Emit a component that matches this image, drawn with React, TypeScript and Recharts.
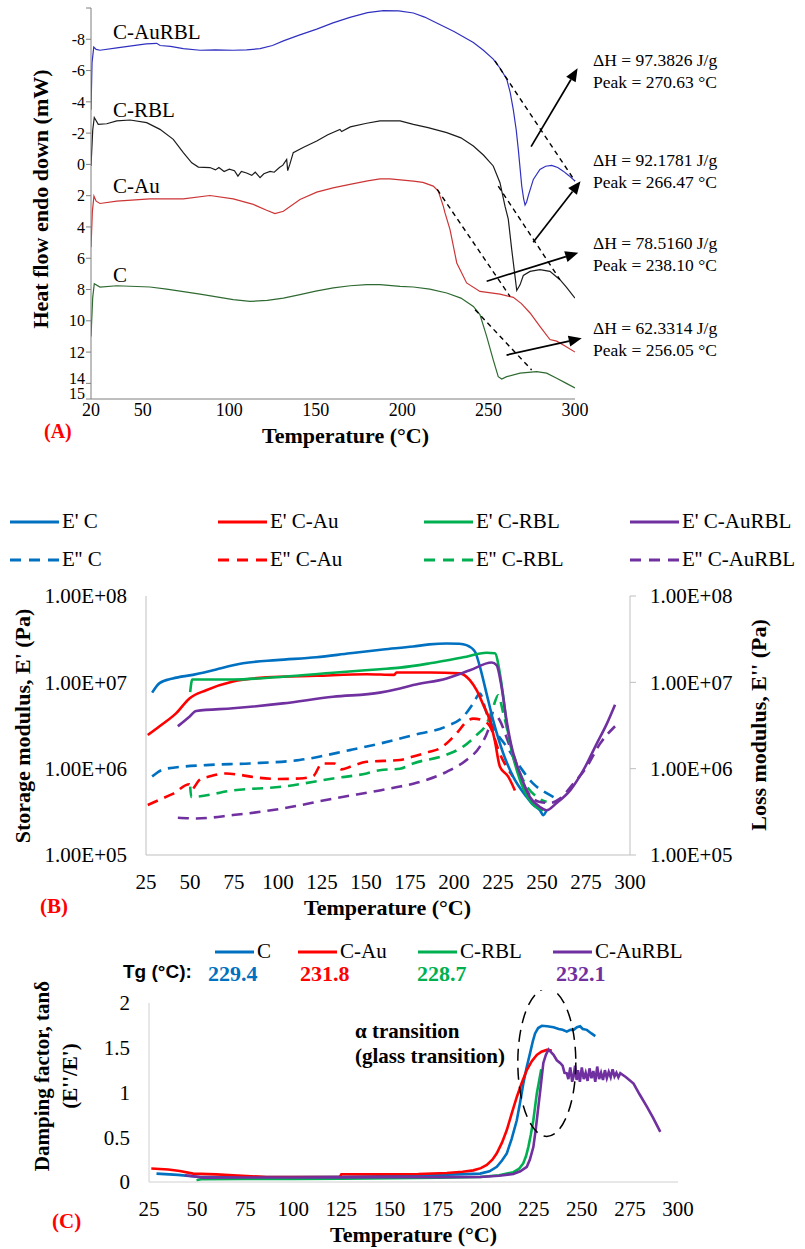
import React from "react";
import {
  LineChart,
  Line,
  XAxis,
  YAxis,
  ReferenceLine,
  ReferenceDot,
} from "recharts";

type Pt = [number, number];

// ---------- (A) DSC curves: temperature (°C), heat flow (mW) ----------
const dscAuRBL: Pt[] = [
  [20, -3.5], [20.6, -6.5], [21.6, -7.5], [23, -7.35], [25.2, -7.3], [35, -7.45],
  [44.5, -7.6], [52, -7.7], [58, -7.74], [60, -7.6], [66, -7.55], [73.4, -7.4],
  [83.1, -7.3], [92, -7.32], [102.3, -7.3], [110, -7.32], [117.8, -7.4], [125, -7.6],
  [131.3, -7.9], [140, -8.25], [150.6, -8.65], [160, -9.05], [169.8, -9.4], [180, -9.7],
  [189.1, -9.83], [198, -9.82], [206.5, -9.68], [213, -9.42], [220, -9.04], [230, -8.5],
  [241.2, -7.8], [247, -7.3], [252.7, -6.73], [257, -6.1], [260.5, -5.45], [262.5, -4.6],
  [264.3, -3.5], [266, -2.2], [267.2, -0.96], [269.2, 1.4], [270.3, 2.2], [271.1, 2.6],
  [272, 2.4], [273, 2.0], [275.9, 0.96], [279.7, 0.32], [283, 0.12], [286.5, 0.06],
  [290, 0.2], [293.2, 0.43], [296.5, 0.72], [300, 1.07],
];
const dscRBL: Pt[] = [
  [20, 0.1], [21, -2.2], [21.9, -3.0], [24.2, -2.56], [29.1, -2.6], [34.9, -2.78],
  [42.6, -2.84], [52.2, -2.67], [59.9, -2.24], [67.6, -1.6], [73.4, -0.75], [78.3, -0.1],
  [82.1, 0.17], [88.8, 0.2], [92, 0.35], [94, 0.2], [97, 0.45], [100, 0.3], [103, 0.4],
  [105, 0.75], [107, 0.45], [110, 0.55], [113, 0.7], [115, 0.5], [117.8, 0.85], [120, 0.6],
  [123.6, 0.45], [126, 0.5], [129, 0.2], [131, 0.05], [133.2, -0.32], [133.8, 0.4],
  [135, 0.0], [137, -0.75], [143, -1.1], [150.6, -1.5], [157, -1.9], [164, -2.24],
  [165, -2.1], [170, -2.4], [179.5, -2.63], [187.2, -2.78], [198.8, -2.78], [206.5, -2.56],
  [215, -2.35], [225.8, -2.03], [234, -1.7], [241.2, -1.17], [247, -0.6], [252.7, 0.1],
  [256.6, 1.17], [259.5, 2.67], [261.4, 3.5], [263.4, 5.45], [265.3, 7.16], [266.3, 8.06],
  [268.2, 7.7], [270.1, 7.1], [274, 6.84], [279.7, 6.73], [285.5, 6.84], [291.3, 7.37],
  [295, 7.85], [300, 8.55],
];
const dscAu: Pt[] = [
  [20, 5.3], [20.8, 3.0], [21.7, 2.03], [23, 2.35], [25.2, 2.5], [34.9, 2.35], [54.1, 2.2],
  [73.4, 2.2], [88.8, 1.99], [102.3, 2.2], [113.9, 2.56], [121.6, 2.93], [126.4, 3.14],
  [131.3, 3.0], [140.9, 2.24], [150.6, 1.77], [160, 1.5], [169.8, 1.28], [180, 1.05],
  [187.2, 0.92], [193, 0.92], [206.5, 1.07], [212, 1.15], [218, 1.39], [220.9, 1.71],
  [223.8, 2.67], [224.8, 3.1], [227.7, 4.17], [231.6, 6.3], [237.3, 7.58], [245, 8.12],
  [256.6, 8.29], [264.3, 8.5], [269, 8.9], [274, 9.5], [279.7, 10.36], [285.5, 11.2],
  [289.4, 11.3], [294, 11.6], [300, 12.0],
];
const dscC: Pt[] = [
  [20, 11.0], [21, 8.5], [21.9, 7.63], [25.2, 7.84], [34.9, 7.76], [54.1, 7.84], [63.8, 7.97],
  [83.1, 8.29], [102.3, 8.65], [112, 8.76], [122, 8.7], [131.3, 8.55], [140.9, 8.33],
  [150, 8.1], [160.2, 7.9], [170, 7.76], [179.5, 7.69], [187.2, 7.69], [198.8, 7.8],
  [206.5, 7.84], [216, 7.98], [225.8, 8.22], [234, 8.55], [241.2, 9.08], [245, 9.6],
  [248.9, 11.0], [252.7, 12.5], [255.6, 13.57], [257.6, 13.72], [260.5, 13.57], [268.2, 13.35],
  [277.8, 13.25], [283.6, 13.35], [289.4, 13.67], [295, 14.0], [300, 14.3],
];
const dscNames = ["C-AuRBL", "C-RBL", "C-Au", "C"];
const dscColors = ["#3030c0", "#1c1c1c", "#cc3535", "#2f6a32"];
const dscCurves = [dscAuRBL, dscRBL, dscAu, dscC];
const dscYTicks = [-10, -8, -6, -4, -2, 0, 2, 4, 6, 8, 10, 12, 14, 15];
const dscXTicks = [20, 50, 100, 150, 200, 250, 300];
// baselines drawn for the peak integration
const dscTangents: [Pt, Pt][] = [
  [[253.7, -6.62], [300, 1.07]],
  [[255.6, 1.39], [291.3, 7.37]],
  [[220.3, 1.6], [262.4, 8.44]],
  [[242.2, 9.29], [274.9, 13.14]],
];
// arrows from the peaks to the notes
const dscArrows: [Pt, Pt][] = [
  [[274.6, -1.14], [301.5, -6.14]],
  [[275.8, 4.98], [303.2, 1.07]],
  [[248.9, 7.47], [301.9, 5.65]],
  [[260.4, 12.19], [303.9, 11.12]],
];
const dscEnthalpy = ["97.3826", "92.1781", "78.5160", "62.3314"];
const dscPeaks = ["270.63", "266.47", "238.10", "256.05"];

// ---------- (B) DMA moduli (Pa) ----------
const eC: Pt[] = [
  [28.5, 7.6e6], [32.7, 9.8e6], [40.2, 1.11e7], [51.6, 1.22e7], [58, 1.3e7], [64.9, 1.41e7],
  [80.1, 1.66e7], [99.1, 1.81e7], [121.8, 1.95e7], [140.8, 2.17e7], [159.7, 2.4e7],
  [176.8, 2.6e7], [186, 2.75e7], [195.8, 2.82e7], [203, 2.8e7], [207.1, 2.7e7],
  [211.9, 2.27e7], [214.7, 1.52e7], [218.5, 7.4e6], [222.3, 3.6e6], [228, 1.5e6],
  [233.6, 8.1e5], [241.3, 4.7e5], [245, 3.8e5], [248.8, 3.3e5], [250.7, 2.9e5], [252.6, 3.3e5],
];
const eAu: Pt[] = [
  [26, 2.45e6], [32.7, 3.1e6], [42.2, 4.4e6], [49.7, 6.5e6], [59.2, 8.1e6], [74.4, 1.02e7],
  [93.4, 1.14e7], [121.8, 1.19e7], [150.3, 1.24e7], [166, 1.22e7], [167.3, 1.3e7],
  [186.3, 1.3e7], [203.3, 1.27e7], [209, 1.06e7], [213, 8e6], [216.6, 5.5e6], [220.4, 3.6e6],
  [223.2, 2.1e6], [226.1, 1.05e6], [230.8, 8.1e5], [234.6, 5.6e5],
];
const eRBL: Pt[] = [
  [50.1, 7.7e6], [51.3, 1.08e7], [74.4, 1.08e7], [102.8, 1.16e7], [131.3, 1.29e7],
  [157.8, 1.42e7], [169.3, 1.48e7], [186.3, 1.66e7], [205.2, 1.95e7], [218.5, 2.2e7],
  [223.2, 2.17e7], [226.1, 1.26e7], [228, 6.8e6], [229.9, 3.3e6], [232.7, 1.64e6],
  [237.5, 7.4e5], [243.1, 4.3e5], [250.7, 3.3e5],
];
const eAuRBL: Pt[] = [
  [43.1, 3.1e6], [49.7, 4.0e6], [53.5, 4.65e6], [74.4, 5.0e6], [102.8, 5.7e6], [131.3, 6.8e6],
  [157.8, 7.6e6], [169.3, 8.5e6], [176.8, 9.3e6], [195.8, 1.11e7], [209, 1.38e7],
  [221.4, 1.7e7], [224.2, 1.58e7], [227, 8.9e6], [229.9, 3.6e6], [232.7, 1.8e6],
  [237.5, 8.8e5], [243.1, 4.7e5], [248.8, 3.6e5], [252.6, 3.3e5], [258.3, 4.0e5],
  [266, 5.6e5], [273.5, 9.6e5], [281.1, 1.95e6], [286.8, 3.3e6], [291.5, 5.5e6],
];
const elC: Pt[] = [
  [28.5, 8.1e5], [32, 9.2e5], [36.5, 1.0e6], [59.2, 1.1e6], [83.9, 1.15e6], [112.3, 1.26e6],
  [140.8, 1.64e6], [157.8, 1.95e6], [176.8, 2.45e6], [195.8, 3.1e6], [205.2, 4.0e6],
  [210.9, 5.7e6], [214.7, 7.4e6], [218.5, 4.4e6], [223.2, 2.8e6], [229.9, 1.8e6],
  [237.5, 1.05e6], [245, 6.7e5], [252.6, 5.2e5], [258.3, 4.5e5],
];
const elAu: Pt[] = [
  [26, 3.8e5], [33, 4.4e5], [40.2, 5.1e5], [49.7, 6.6e5], [51, 5.8e5], [55.4, 7.4e5],
  [62, 8.2e5], [70.6, 8.8e5], [78, 8.5e5], [87.7, 7.9e5], [100, 7.6e5], [112.3, 7.7e5],
  [120, 8.2e5], [125, 1.15e6], [132, 1.15e6], [136, 9.8e5], [141, 1.05e6], [150.3, 1.2e6],
  [169.3, 1.26e6], [176.8, 1.38e6], [185, 1.55e6], [192, 1.72e6], [201.5, 2.57e6],
  [207.1, 3.5e6], [210.9, 3.8e6], [216.6, 3.6e6], [220.4, 3.1e6], [226, 1.5e6], [233.5, 8.1e5],
];
const elRBL: Pt[] = [
  [50.1, 6.2e5], [50.7, 4.7e5], [74.4, 5.6e5], [102.8, 6.2e5], [131.3, 7.7e5], [150.3, 8.8e5],
  [157.8, 9.6e5], [169.3, 1.0e6], [176.8, 1.15e6], [195.8, 1.45e6], [205.2, 1.8e6],
  [212.8, 2.45e6], [218.5, 3.3e6], [222.3, 5.2e6], [225.1, 7.1e6], [228, 4.4e6],
  [233.6, 1.5e6], [239.3, 7.4e5], [247, 4.7e5], [252.6, 4.1e5],
];
const elAuRBL: Pt[] = [
  [43.1, 2.7e5], [53.5, 2.65e5], [74.4, 2.9e5], [102.8, 3.46e5], [131.3, 4.5e5],
  [157.8, 5.6e5], [169.3, 6.2e5], [176.8, 6.7e5], [195.8, 9.2e5], [207.1, 1.26e6],
  [214.7, 1.8e6], [219.4, 2.8e6], [222.3, 4.4e6], [226.1, 3.6e6], [229.9, 2.3e6],
  [235.6, 1.05e6], [241.3, 5.6e5], [248.8, 4.1e5], [254.5, 4.0e5], [260.2, 4.5e5],
  [267.8, 6.7e5], [275.4, 1.05e6], [283, 1.95e6], [291.5, 3.1e6],
];
const sampleNames = ["C", "C-Au", "C-RBL", "C-AuRBL"];
const sampleColors = ["#0070c0", "#ff0000", "#00b050", "#7030a0"];
const storageCurves = [eC, eAu, eRBL, eAuRBL];
const lossCurves = [elC, elAu, elRBL, elAuRBL];
const tempTicks = [25, 50, 75, 100, 125, 150, 175, 200, 225, 250, 275, 300];
const modulusTicks = [1e5, 1e6, 1e7, 1e8];

// ---------- (C) tan delta ----------
const tanC: Pt[] = [
  [28.9, 0.094], [40, 0.08], [51.4, 0.056], [75, 0.055], [100, 0.055], [125, 0.058],
  [145, 0.064], [170, 0.075], [185, 0.085], [197.1, 0.094], [202, 0.12], [205.8, 0.17],
  [208.5, 0.24], [211, 0.32], [213.5, 0.48], [216.2, 0.69], [218, 0.9], [219.6, 1.1],
  [221.3, 1.28], [223.1, 1.44], [224.5, 1.57], [225.7, 1.66], [227.3, 1.72], [229.2, 1.745],
  [232, 1.74], [235.3, 1.73], [238, 1.71], [240, 1.7], [242.2, 1.68], [244, 1.7],
  [245.7, 1.7], [247.5, 1.73], [249.1, 1.74], [250.5, 1.71], [252.6, 1.7], [255, 1.66],
  [257, 1.63],
];
const tanAu: Pt[] = [
  [26.2, 0.15], [35, 0.14], [41, 0.123], [47.9, 0.094], [60, 0.085], [68.7, 0.075],
  [86.1, 0.056], [100, 0.056], [124.2, 0.056], [125, 0.086], [145, 0.086], [165, 0.09],
  [179.8, 0.1], [188, 0.115], [193.6, 0.13], [197.5, 0.155], [200.6, 0.19], [203.5, 0.25],
  [205.8, 0.32], [208.5, 0.44], [211, 0.58], [213.5, 0.76], [216.2, 0.95], [218.8, 1.11],
  [221.4, 1.25], [224, 1.35], [226.6, 1.42], [229, 1.455], [231.8, 1.476], [234.4, 1.47],
];
const tanRBL: Pt[] = [
  [49.7, 0.02], [52, 0.03], [75, 0.033], [100, 0.035], [125, 0.038], [150, 0.042],
  [175, 0.048], [197.1, 0.056], [207, 0.075], [214.4, 0.11], [217.5, 0.15], [219.6, 0.21],
  [221, 0.29], [222.2, 0.39], [223.5, 0.53], [224.8, 0.69], [225.7, 0.84], [226.6, 0.99],
  [227.8, 1.13], [228.9, 1.26],
];
const tanAuRBL: Pt[] = [
  [43.6, 0.075], [48, 0.065], [53.1, 0.049], [75, 0.05], [100, 0.05], [125, 0.052],
  [150, 0.054], [175, 0.055], [197.1, 0.056], [207, 0.07], [214.4, 0.09], [218, 0.12],
  [221.4, 0.17], [223, 0.25], [224.8, 0.39], [226, 0.58], [227.4, 0.84], [228.7, 1.08],
  [230, 1.33], [231.3, 1.42], [232.7, 1.48], [234, 1.45], [235.3, 1.42], [237, 1.36],
  [238.7, 1.33], [240, 1.3], [241, 1.22], [242.2, 1.215], [243, 1.15], [244, 1.28],
  [245, 1.12], [245.7, 1.18], [246.5, 1.3], [247.3, 1.14], [248, 1.25], [249, 1.12],
  [250, 1.28], [251, 1.15], [252, 1.22], [253, 1.13], [254, 1.27], [255, 1.16], [256, 1.24],
  [257, 1.12], [258, 1.29], [259, 1.15], [260, 1.22], [261, 1.14], [262, 1.25], [263, 1.16],
  [264, 1.23], [265, 1.17], [266, 1.26], [267, 1.18], [268, 1.22], [269, 1.17], [270, 1.215],
  [273, 1.17], [276.9, 1.1], [280, 0.98], [283.9, 0.84], [287, 0.72], [290.8, 0.56],
];
const tanCurves = [tanC, tanAu, tanRBL, tanAuRBL];
const tgValues = ["229.4", "231.8", "228.7", "232.1"];
const tanTicks = [0, 0.5, 1, 1.5, 2];
const transitionCenter: Pt = [231.8, 1.336];

const SERIF = '"Liberation Serif", "Times New Roman", serif';
const toXY = (pts: Pt[]) => pts.map(([x, y]) => ({ x, y }));

const Txt = ({ x, y, size, bold, color, children, family }: any) => (
  <div
    style={{
      position: "absolute",
      left: x,
      top: y - size * 0.6,
      fontSize: size,
      lineHeight: `${size * 1.2}px`,
      fontWeight: bold ? "bold" : "normal",
      color: color || "#000",
      fontFamily: family || SERIF,
      whiteSpace: "nowrap",
    }}
  >
    {children}
  </div>
);

const VTxt = ({ x, y, size, children }: any) => (
  <div
    style={{
      position: "absolute",
      left: x,
      top: y,
      transform: "translate(-50%, -50%) rotate(-90deg)",
      fontSize: size,
      fontWeight: "bold",
      fontFamily: SERIF,
      whiteSpace: "nowrap",
      lineHeight: 1,
    }}
  >
    {children}
  </div>
);

// the last two ticks (14, 15) are crowded: lift both labels like the source
const DscYTick = (p: any) => {
  const { x, y, payload } = p;
  if (payload.value === -10) return null;
  const dy = payload.value === 15 ? -6 : payload.value === 14 ? -5 : 0;
  return (
    <text
      x={x}
      y={y + dy}
      dy="0.355em"
      textAnchor="end"
      fontSize={16}
      fontFamily={SERIF}
      fill="#000"
    >
      {payload.value}
    </text>
  );
};

const ArrowShape = (p: any) => {
  const { x1, y1, x2, y2 } = p;
  const a = Math.atan2(y2 - y1, x2 - x1);
  const len = 13;
  const half = 5.5;
  const bx = x2 - len * Math.cos(a);
  const by = y2 - len * Math.sin(a);
  const nx = -Math.sin(a) * half;
  const ny = Math.cos(a) * half;
  return (
    <g>
      <line x1={x1} y1={y1} x2={bx} y2={by} stroke="#000" strokeWidth={1.7} />
      <polygon
        points={`${x2},${y2} ${bx + nx},${by + ny} ${bx - nx},${by - ny}`}
        fill="#000"
      />
    </g>
  );
};

const EllipseShape = (p: any) => (
  <ellipse
    cx={p.cx}
    cy={p.cy}
    rx={29}
    ry={74}
    fill="none"
    stroke="#000"
    strokeWidth={1.5}
    strokeDasharray="12 7"
  />
);

const DscPanel = () => {
  const labelY = [33, 111, 187, 276];
  const noteY = [60, 160, 243, 328];
  return (
    <>
      <div style={{ position: "absolute", left: 0, top: 0 }}>
        <LineChart width={805} height={430} margin={{ top: 8, right: 230, bottom: 0, left: 0 }}>
          <XAxis
            type="number"
            dataKey="x"
            domain={[20, 300]}
            ticks={dscXTicks}
            interval={0}
            allowDataOverflow
            height={31}
            stroke="#7f7f7f"
            tickLine={false}
            tickSize={0}
            tickMargin={4}
            tick={{ fontSize: 18, fill: "#000", fontFamily: SERIF }}
          />
          <YAxis
            type="number"
            dataKey="y"
            reversed
            domain={[-10, 15]}
            ticks={dscYTicks}
            interval={0}
            allowDataOverflow
            width={91}
            stroke="#7f7f7f"
            tickSize={5}
            tickMargin={1}
            tick={DscYTick}
          />
          {dscCurves.map((c, i) => (
            <Line
              key={dscNames[i]}
              data={toXY(c)}
              dataKey="y"
              type="linear"
              stroke={dscColors[i]}
              strokeWidth={1.2}
              dot={false}
              activeDot={false}
              isAnimationActive={false}
            />
          ))}
          {dscTangents.map((s, i) => (
            <ReferenceLine
              key={`t${i}`}
              segment={[{ x: s[0][0], y: s[0][1] }, { x: s[1][0], y: s[1][1] }]}
              stroke="#000"
              strokeWidth={1.4}
              strokeDasharray="5 4"
              ifOverflow="visible"
            />
          ))}
          {dscArrows.map((s, i) => (
            <ReferenceLine
              key={`a${i}`}
              segment={[{ x: s[0][0], y: s[0][1] }, { x: s[1][0], y: s[1][1] }]}
              ifOverflow="visible"
              shape={ArrowShape}
            />
          ))}
        </LineChart>
      </div>
      {dscNames.map((n, i) => (
        <Txt key={n} x={113} y={labelY[i]} size={21}>
          {n}
        </Txt>
      ))}
      {dscEnthalpy.map((h, i) => (
        <React.Fragment key={h}>
          <Txt x={593} y={noteY[i]} size={17.5}>
            ΔH = {h} J/g
          </Txt>
          <Txt x={593} y={noteY[i] + 22} size={17.5}>
            Peak = {dscPeaks[i]} °C
          </Txt>
        </React.Fragment>
      ))}
      <VTxt x={41} y={199} size={22}>
        Heat flow endo down (mW)
      </VTxt>
      <Txt x={262} y={436} size={22} bold>
        Temperature (°C)
      </Txt>
      <Txt x={44} y={431} size={20} bold color="#ff0000">
        (A)
      </Txt>
    </>
  );
};

const LegendLine = ({ x, y, w, color, dashed, label, size }: any) => (
  <>
    <svg
      style={{ position: "absolute", left: x, top: y - 3 }}
      width={w}
      height={6}
    >
      <line
        x1={0}
        y1={3}
        x2={w}
        y2={3}
        stroke={color}
        strokeWidth={3}
        strokeDasharray={dashed ? "11 8" : undefined}
      />
    </svg>
    <Txt x={x + w + 3} y={y} size={size}>
      {label}
    </Txt>
  </>
);

const DmaPanel = () => {
  const legendX = [10, 218, 424, 630];
  const fmt = (v: number) => `1.00E+${String(Math.round(Math.log10(v))).padStart(2, "0")}`;
  const tickStyle = { fontSize: 21, fill: "#000", fontFamily: SERIF };
  return (
    <>
      {sampleNames.map((n, i) => (
        <React.Fragment key={n}>
          <LegendLine x={legendX[i]} y={522} w={49} color={sampleColors[i]} label={`E' ${n}`} size={21} />
          <LegendLine x={legendX[i]} y={560} w={49} color={sampleColors[i]} dashed label={`E'' ${n}`} size={21} />
        </React.Fragment>
      ))}
      <div style={{ position: "absolute", left: 0, top: 580 }}>
        <LineChart width={805} height={320} margin={{ top: 16, right: 0, bottom: 0, left: 0 }}>
          <XAxis
            type="number"
            dataKey="x"
            domain={[25, 300]}
            ticks={tempTicks}
            interval={0}
            allowDataOverflow
            height={45}
            stroke="#bfbfbf"
            tickLine={false}
            tickSize={0}
            tickMargin={19}
            tick={tickStyle}
          />
          <YAxis
            yAxisId="left"
            scale="log"
            domain={[1e5, 1e8]}
            ticks={modulusTicks}
            interval={0}
            allowDataOverflow
            width={146}
            stroke="#bfbfbf"
            tickLine={false}
            tickSize={0}
            tickMargin={19}
            tickFormatter={fmt}
            tick={tickStyle}
          />
          <YAxis
            yAxisId="right"
            orientation="right"
            scale="log"
            domain={[1e5, 1e8]}
            ticks={modulusTicks}
            interval={0}
            allowDataOverflow
            width={175}
            stroke="#bfbfbf"
            tickSize={6}
            tickMargin={14}
            tickFormatter={fmt}
            tick={tickStyle}
          />
          {lossCurves.map((c, i) => (
            <Line
              key={`l${i}`}
              yAxisId="right"
              data={toXY(c)}
              dataKey="y"
              type="monotone"
              stroke={sampleColors[i]}
              strokeWidth={2.6}
              strokeDasharray="11 7"
              dot={false}
              activeDot={false}
              isAnimationActive={false}
            />
          ))}
          {storageCurves.map((c, i) => (
            <Line
              key={`s${i}`}
              yAxisId="left"
              data={toXY(c)}
              dataKey="y"
              type="monotone"
              stroke={sampleColors[i]}
              strokeWidth={2.6}
              dot={false}
              activeDot={false}
              isAnimationActive={false}
            />
          ))}
        </LineChart>
      </div>
      <VTxt x={23} y={726} size={22}>
        Storage modulus, E' (Pa)
      </VTxt>
      <VTxt x={759} y={725} size={22}>
        Loss modulus, E'' (Pa)
      </VTxt>
      <Txt x={304} y={908} size={22} bold>
        Temperature (°C)
      </Txt>
      <Txt x={40} y={907} size={21} bold color="#ff0000">
        (B)
      </Txt>
    </>
  );
};

const TanPanel = () => {
  const legendX = [215, 298, 418, 553];
  const tgX = [208, 300, 417, 556];
  const tickStyle = { fontSize: 21, fill: "#000", fontFamily: SERIF };
  return (
    <>
      {sampleNames.map((n, i) => (
        <React.Fragment key={n}>
          <LegendLine x={legendX[i]} y={952} w={39} color={sampleColors[i]} label={n} size={21} />
          <Txt x={tgX[i]} y={974} size={22} bold color={sampleColors[i]}>
            {tgValues[i]}
          </Txt>
        </React.Fragment>
      ))}
      <Txt x={123} y={972} size={19} bold family='"Liberation Sans", Arial, sans-serif'>
        Tg (°C):
      </Txt>
      <div style={{ position: "absolute", left: 0, top: 990 }}>
        <LineChart width={805} height={230} margin={{ top: 13, right: 127, bottom: 0, left: 0 }}>
          <XAxis
            type="number"
            dataKey="x"
            domain={[25, 300]}
            ticks={tempTicks}
            interval={0}
            allowDataOverflow
            height={38}
            stroke="#d0d0d0"
            tickLine={false}
            tickSize={0}
            tickMargin={19}
            tick={tickStyle}
          />
          <YAxis
            type="number"
            dataKey="y"
            domain={[0, 2]}
            ticks={tanTicks}
            interval={0}
            allowDataOverflow
            width={149}
            stroke="#d0d0d0"
            tickLine={false}
            tickSize={0}
            tickMargin={19}
            tick={tickStyle}
          />
          {tanCurves.map((c, i) => (
            <Line
              key={sampleNames[i]}
              data={toXY(c)}
              dataKey="y"
              type="linear"
              stroke={sampleColors[i]}
              strokeWidth={2.6}
              dot={false}
              activeDot={false}
              isAnimationActive={false}
            />
          ))}
          <ReferenceDot
            x={transitionCenter[0]}
            y={transitionCenter[1]}
            ifOverflow="visible"
            shape={EllipseShape}
          />
        </LineChart>
      </div>
      <Txt x={355} y={1032} size={21} bold>
        α transition
      </Txt>
      <Txt x={355} y={1057} size={21} bold>
        (glass transition)
      </Txt>
      <VTxt x={42} y={1076} size={21}>
        Damping factor, tanδ
      </VTxt>
      <VTxt x={70} y={1076} size={21}>
        (E''/E')
      </VTxt>
      <Txt x={330} y={1235} size={22} bold>
        Temperature (°C)
      </Txt>
      <Txt x={52} y={1222} size={21} bold color="#ff0000">
        (C)
      </Txt>
    </>
  );
};

export default function App() {
  return (
    <div
      style={{
        position: "absolute",
        left: 0,
        top: 0,
        width: 805,
        height: 1249,
        background: "#fff",
        fontFamily: SERIF,
        overflow: "hidden",
      }}
    >
      <DscPanel />
      <DmaPanel />
      <TanPanel />
    </div>
  );
}
